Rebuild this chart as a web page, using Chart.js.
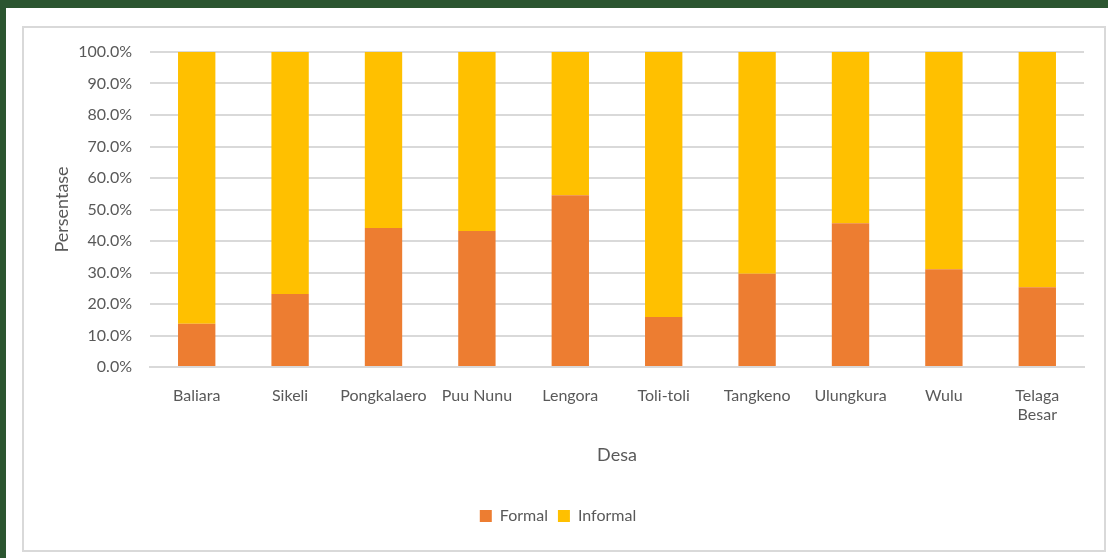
<!DOCTYPE html>
<html>
<head>
<meta charset="utf-8">
<script src="https://cdn.jsdelivr.net/npm/chart.js@4"></script>
<style>
    html, body { margin: 0; padding: 0; }
    body { width: 1108px; height: 558px; background: #2b5530; position: relative; overflow: hidden; }
    #sheet { position: absolute; left: 6px; top: 8px; width: 1102px; height: 550px; background: #fff; }
    #frame { position: absolute; left: 16px; top: 18px; width: 1080px; height: 522px; border: 2px solid #d9d9d9; }
    canvas { display: block; }
</style>
</head>
<body>
<div id="sheet">
    <div id="frame"><canvas id="chart" width="1080" height="522"></canvas></div>
</div>
<script>
const desa = ["Baliara", "Sikeli", "Pongkalaero", "Puu Nunu", "Lengora", "Toli-toli", "Tangkeno", "Ulungkura", "Wulu", ["Telaga", "Besar"]];
const formal = [13.7, 23.2, 44.1, 43.2, 54.5, 15.9, 29.6, 45.6, 31.0, 25.3];
const informal = [86.3, 76.8, 55.9, 56.8, 45.5, 84.1, 70.4, 54.4, 69.0, 74.7];

const textColor = "#595959";
const gridColor = "#d9d9d9";
const fontFamily = "Lato, 'Noto Sans', sans-serif";

const ctx = document.getElementById("chart").getContext("2d");

new Chart(ctx, {
    type: 'bar',
    data: {
        labels: desa,
        datasets: [
            {
                label: "Formal",
                data: formal,
                backgroundColor: "#ed7d31",
                categoryPercentage: 1,
                barPercentage: 0.4
            },
            {
                label: "Informal",
                data: informal,
                backgroundColor: "#ffc000",
                categoryPercentage: 1,
                barPercentage: 0.4
            }
        ]
    },
    options: {
        responsive: false,
        animation: false,
        layout: {
            padding: { left: 8, right: 20, top: 16, bottom: 16 }
        },
        plugins: {
            legend: {
                position: 'bottom',
                labels: {
                    boxWidth: 12,
                    boxHeight: 12,
                    color: textColor,
                    font: { family: fontFamily, size: 16 }
                }
            },
            tooltip: { enabled: false }
        },
        scales: {
            x: {
                stacked: true,
                grid: { display: false },
                border: { display: true, color: gridColor, width: 2 },
                ticks: {
                    color: textColor,
                    padding: 11,
                    maxRotation: 0,
                    autoSkip: false,
                    font: { family: fontFamily, size: 16 }
                },
                title: {
                    display: true,
                    text: "Desa",
                    color: textColor,
                    padding: { top: 0, bottom: 32 },
                    font: { family: fontFamily, size: 18 }
                },
                afterFit: (scale) => { scale.height = 131; }
            },
            y: {
                stacked: true,
                min: 0,
                max: 100,
                grid: { color: gridColor, lineWidth: 2, drawTicks: false },
                border: { display: false },
                ticks: {
                    stepSize: 10,
                    color: textColor,
                    padding: 18,
                    // small line height keeps the top label from pushing the plot down
                    font: { family: fontFamily, size: 16, lineHeight: 0.75 },
                    callback: (v) => v.toFixed(1) + "%"
                },
                title: {
                    display: true,
                    text: "Persentase",
                    color: textColor,
                    padding: { top: 19, bottom: 0 },
                    font: { family: fontFamily, size: 18 }
                },
                afterFit: (scale) => { scale.width = 118; }
            }
        }
    }
});
</script>
</body>
</html>
